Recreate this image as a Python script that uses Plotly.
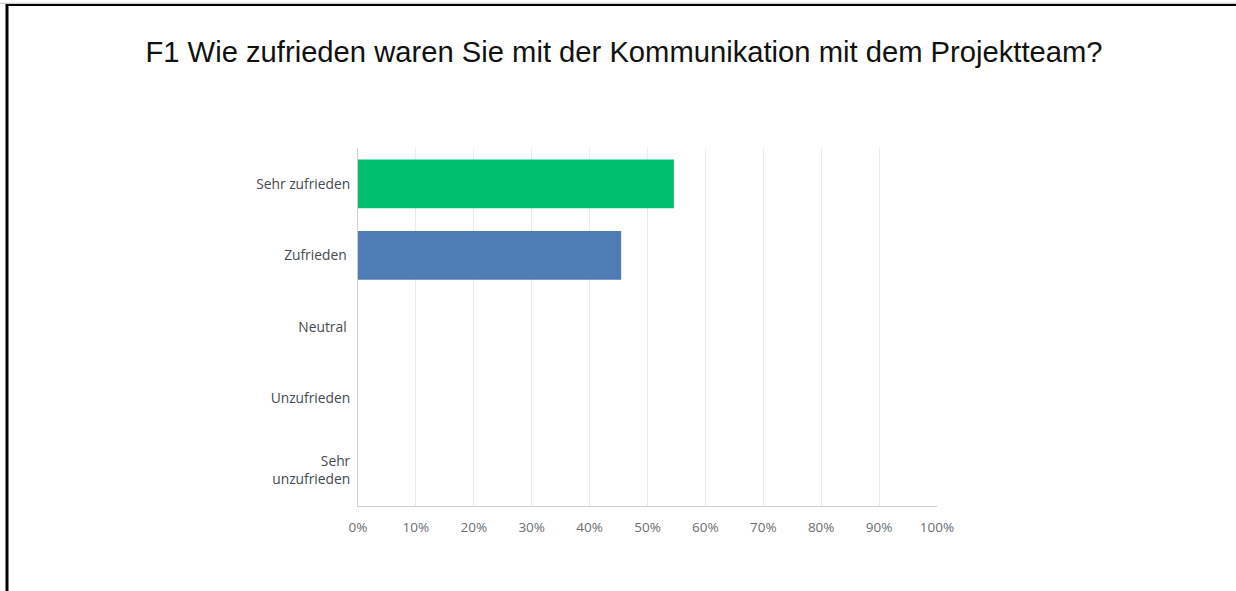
import plotly.graph_objects as go

categories = ["Sehr zufrieden", "Zufrieden ", "Neutral ", "Unzufrieden", "Sehr<br>unzufrieden"]
values = [54.55, 45.45, 0, 0, 0]
colors = ["#00BF6F", "#507CB6", "#D25F90", "#F05B24", "#6BC8CD"]
x_ticks = [0, 10, 20, 30, 40, 50, 60, 70, 80, 90, 100]
x_tick_labels = [f"{v}%" for v in x_ticks]
title = "F1 Wie zufrieden waren Sie mit der Kommunikation mit dem Projektteam?"

W, H = 1236, 591
L, R, T, B = 358, 299, 148, 85
pw, ph = W - L - R, H - T - B

def px_x(x):
    return (x - L) / pw

def px_y(y):
    return (H - B - y) / ph

fig = go.Figure(go.Bar(
    x=values, y=categories, orientation="h",
    marker=dict(color=colors, line=dict(width=0)),
    hoverinfo="x+y",
))

fig.update_layout(
    width=W, height=H,
    margin=dict(l=L, r=R, t=T, b=B),
    paper_bgcolor="white", plot_bgcolor="white",
    bargap=0.32,
    showlegend=False,
    font=dict(family="Open Sans, Arial, sans-serif", size=12, color="#444a50"),
    title=dict(text=title, x=624 / W, xref="container", xanchor="center", y=1 - 52 / H, yanchor="middle",
               font=dict(family="Liberation Sans, Arial, sans-serif", size=29.2, color="#111111")),
)
fig.update_xaxes(range=[0, 100], tickvals=x_ticks, ticktext=x_tick_labels,
                 showgrid=True, gridcolor="#ebebeb", gridwidth=1,
                 showline=True, linecolor="#cfcfcf", linewidth=1,
                 zeroline=False, ticks="outside", ticklen=9, tickcolor="rgba(0,0,0,0)",
                 tickfont=dict(family="Open Sans, Arial, sans-serif", size=13.5, color="#6b6f73"))
fig.update_yaxes(categoryorder="array", categoryarray=categories[::-1],
                 showgrid=False, showline=True, linecolor="#cfcfcf", linewidth=1,
                 ticks="outside", ticklen=4, tickcolor="rgba(0,0,0,0)",
                 tickfont=dict(family="Open Sans, Arial, sans-serif", size=13.8, color="#444a50"))

# outer frame lines (top and left)
fig.add_shape(type="line", xref="paper", yref="paper",
              x0=px_x(0), x1=px_x(W), y0=px_y(3.2), y1=px_y(3.2),
              line=dict(color="#bdbdbd", width=1))
fig.add_shape(type="line", xref="paper", yref="paper",
              x0=px_x(6), x1=px_x(W), y0=px_y(5), y1=px_y(5),
              line=dict(color="#000000", width=2))
fig.add_shape(type="line", xref="paper", yref="paper",
              x0=px_x(7), x1=px_x(7), y0=px_y(4), y1=px_y(H),
              line=dict(color="#000000", width=3))

fig.write_html("out.html", config={"displayModeBar": False},
               post_script="document.body.style.margin='0';")
